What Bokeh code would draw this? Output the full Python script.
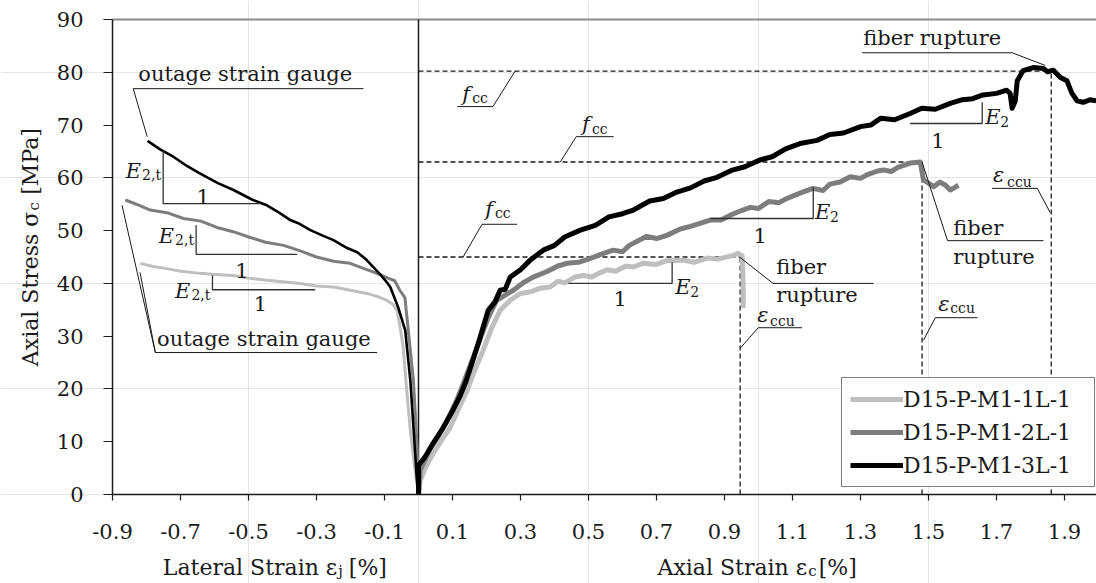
import math
from bokeh.plotting import figure
from bokeh.models import (Range1d, FixedTicker, LinearAxis, Legend, LegendItem,
                          ColumnDataSource, PrintfTickFormatter)
from bokeh.core.properties import value
from bokeh.embed import file_html
from bokeh.resources import INLINE

SERIF = "DejaVu Serif"
INK = "#1a1a1a"

# ---- specimens -------------------------------------------------------------
series_names = ["D15-P-M1-1L-1", "D15-P-M1-2L-1", "D15-P-M1-3L-1"]
series_colors = ["#bfbfbf", "#7d7d7d", "#000000"]

# axial strain [%] / axial stress [MPa]
ax1_strain = [0, 0.005, 0.02, 0.043, 0.07, 0.093, 0.12, 0.143, 0.165, 0.19, 0.215, 0.24,
              0.27, 0.3, 0.33, 0.358, 0.387, 0.41, 0.43, 0.46, 0.485, 0.51, 0.53, 0.555, 0.58,
              0.61, 0.632, 0.66, 0.7, 0.73, 0.78, 0.81, 0.85, 0.88, 0.926, 0.94, 0.952,
              0.955, 0.955]
ax1_stress = [0, 2.6, 5.0, 7.8, 10.5, 12.7, 16.5, 19.7, 23.5, 27.3, 31.5, 34.9,
              36.8, 38.1, 38.4, 39.1, 39.3, 40.4, 40.1, 41.2, 41.5, 41.2, 41.9, 42.6, 42.3,
              43.3, 43.1, 43.8, 43.6, 44.3, 44.4, 44.0, 44.8, 44.6, 45.3, 45.7, 45.2,
              40.0, 35.3]

ax2_strain = [0, 0.005, 0.034, 0.06, 0.084, 0.11, 0.132, 0.155, 0.18, 0.205, 0.23, 0.255,
              0.279, 0.31, 0.337, 0.38, 0.41, 0.436, 0.47, 0.5, 0.54, 0.573, 0.6, 0.62, 0.67,
              0.7, 0.73, 0.77, 0.8, 0.83, 0.858, 0.89, 0.92, 0.95, 0.976, 1.0, 1.03, 1.06,
              1.08, 1.122, 1.16, 1.19, 1.21, 1.24, 1.27, 1.3, 1.32, 1.35, 1.368, 1.39, 1.41,
              1.446, 1.476, 1.485, 1.5, 1.515, 1.534, 1.55, 1.564, 1.578, 1.588]
ax2_stress = [0, 4.6, 8.7, 11.3, 14.0, 17.5, 21.0, 25.0, 29.2, 33.5, 36.8, 37.8,
              38.7, 40.2, 41.2, 42.3, 43.3, 43.8, 44.0, 44.6, 45.6, 46.3, 46.0, 47.2, 48.9,
              48.5, 49.1, 50.3, 50.8, 51.4, 52.0, 52.0, 53.0, 53.8, 54.4, 54.2, 55.5, 55.3,
              56.0, 57.1, 58.0, 57.6, 58.8, 59.2, 60.2, 59.9, 60.6, 61.3, 61.5, 61.2, 62.0,
              62.8, 63.0, 59.6, 59.0, 58.3, 59.2, 58.6, 57.7, 58.2, 58.6]

ax3_strain = [0, 0.0, 0.02, 0.043, 0.073, 0.1, 0.123, 0.14, 0.158, 0.18, 0.205, 0.225,
              0.24, 0.255, 0.27, 0.3, 0.33, 0.367, 0.4, 0.43, 0.476, 0.52, 0.56, 0.6, 0.632,
              0.68, 0.72, 0.76, 0.8, 0.84, 0.878, 0.92, 0.96, 1.005, 1.04, 1.08, 1.122,
              1.172, 1.21, 1.25, 1.3, 1.33, 1.36, 1.4, 1.446, 1.48, 1.52, 1.564, 1.6, 1.63,
              1.66, 1.7, 1.73, 1.74, 1.746, 1.755, 1.761, 1.778, 1.808, 1.838, 1.85, 1.867,
              1.888, 1.907, 1.922, 1.937, 1.955, 1.975, 1.993]
ax3_stress = [0, 5.5, 7.2, 9.7, 12.7, 15.8, 18.8, 21.5, 25.0, 29.5, 34.9, 36.5,
              38.7, 38.9, 41.2, 42.6, 44.5, 46.3, 47.2, 48.8, 50.1, 51.0, 52.6, 53.2, 53.9,
              55.6, 56.1, 57.3, 58.1, 59.4, 60.1, 61.4, 62.1, 63.4, 64.0, 65.5, 66.5,
              67.1, 68.2, 68.5, 69.7, 70.0, 71.3, 71.0, 72.2, 73.2, 73.0, 74.1, 74.8, 75.0,
              75.7, 76.0, 76.6, 76.0, 73.2, 74.5, 78.4, 80.3, 80.9, 80.7, 80.1, 80.4,
              79.0, 78.4, 76.0, 74.6, 74.3, 74.8, 74.6]

# lateral (hoop) strain [%] / axial stress [MPa]
lat1_strain = [0, -0.006, -0.015, -0.024, -0.035, -0.045, -0.055, -0.063, -0.075, -0.093,
               -0.12, -0.152, -0.2, -0.25, -0.3, -0.348, -0.4, -0.446, -0.5, -0.544, -0.6,
               -0.642, -0.7, -0.74, -0.78, -0.818]
lat1_stress = [0, 2.6, 7.0, 12.1, 20.0, 27.9, 32.0, 34.9, 36.0, 36.8,
               37.5, 38.1, 38.7, 39.3, 39.5, 40.0, 40.3, 40.6, 41.0, 41.5, 41.7,
               41.9, 42.3, 42.8, 43.2, 43.8]

lat2_strain = [0, -0.004, -0.015, -0.03, -0.04, -0.055, -0.07, -0.09, -0.122, -0.16, -0.201,
               -0.25, -0.3, -0.35, -0.397, -0.45, -0.495, -0.545, -0.593, -0.64, -0.691,
               -0.74, -0.789, -0.83, -0.862]
lat2_stress = [0, 8.9, 21.6, 31.1, 37.3, 38.7, 40.5, 41.0, 41.9, 42.8, 43.8,
               44.2, 45.0, 46.2, 47.2, 47.8, 48.7, 49.8, 50.6, 51.8, 52.3,
               53.4, 53.9, 55.0, 55.8]

lat3_strain = [0, -0.005, -0.012, -0.024, -0.039, -0.06, -0.083, -0.093, -0.11, -0.133,
               -0.155, -0.18, -0.21, -0.25, -0.28, -0.318, -0.35, -0.377, -0.41, -0.446,
               -0.49, -0.544, -0.59, -0.642, -0.68, -0.721, -0.76, -0.797]
lat3_stress = [0, 3.0, 10.0, 21.6, 31.1, 35.5, 39.3, 40.2, 41.5, 43.1,
               44.6, 45.9, 46.7, 48.2, 49.0, 50.1, 51.3, 52.0, 53.4, 54.8,
               55.9, 57.7, 59.0, 60.8, 62.2, 64.0, 65.4, 67.0]

# peak stress f_cc [MPa] and ultimate axial strain eps_ccu [%]
fcc = [45.0, 63.0, 80.2]
eps_ccu = [0.946, 1.481, 1.861]

x_ticks = [-0.9, -0.7, -0.5, -0.3, -0.1, 0.1, 0.3, 0.5, 0.7, 0.9, 1.1, 1.3, 1.5, 1.7, 1.9]
x_tick_labels = ["-0.9", "-0.7", "-0.5", "-0.3", "-0.1", "0.1", "0.3", "0.5", "0.7",
                 "0.9", "1.1", "1.3", "1.5", "1.7", "1.9"]
y_ticks = [0, 10, 20, 30, 40, 50, 60, 70, 80, 90]
y_tick_labels = ["0", "10", "20", "30", "40", "50", "60", "70", "80", "90"]

# ---- figure ----------------------------------------------------------------
# The plotting frame fills the whole canvas; the axes sit at fixed data
# locations so that titles with subscripts can be set as text glyphs.
X_MIN, X_MAX = -0.9, 1.994        # axis extent
Y_MIN, Y_MAX = 0, 90
x_view = Range1d(-1.2294, 1.9941)
y_view = Range1d(-16.86, 93.6)

p = figure(width=1096, height=583, x_range=x_view, y_range=y_view,
           x_axis_location=None, y_axis_location=None,
           output_backend="svg", toolbar_location=None,
           min_border_left=0, min_border_right=0, min_border_top=0, min_border_bottom=0)
p.outline_line_color = None
p.background_fill_color = "white"
p.border_fill_color = "white"

xa = LinearAxis(fixed_location=0, bounds=(X_MIN, X_MAX), ticker=FixedTicker(ticks=x_ticks),
                formatter=PrintfTickFormatter(format="%.1f"),
                major_label_overrides=dict(zip(x_ticks, x_tick_labels)))
ya = LinearAxis(fixed_location=X_MIN, bounds=(Y_MIN, Y_MAX), ticker=FixedTicker(ticks=y_ticks),
                major_label_overrides=dict(zip(y_ticks, y_tick_labels)))
for ax, tick_len, standoff in ((xa, 6, 23), (ya, 9, 20)):
    ax.major_tick_out = tick_len
    ax.major_tick_in = 0
    ax.minor_tick_out = 0
    ax.minor_tick_in = 0
    ax.major_tick_line_color = INK
    ax.major_tick_line_width = 1.2
    ax.axis_line_color = INK
    ax.axis_line_width = 1.5
    ax.major_label_text_font = SERIF
    ax.major_label_text_font_size = "21px"
    ax.major_label_text_color = INK
    ax.major_label_standoff = standoff
p.add_layout(xa, "below")
p.add_layout(ya, "left")

# upper frame edge and the zero-strain divider
p.segment(x0=[X_MIN], y0=[Y_MAX], x1=[X_MAX], y1=[Y_MAX], line_color="#8c8c8c", line_width=2)
p.segment(x0=[0], y0=[Y_MIN], x1=[0], y1=[Y_MAX], line_color=INK, line_width=1.5)

# f_cc and eps_ccu guide lines
p.segment(x0=[0] * 3, y0=fcc, x1=eps_ccu, y1=fcc, line_color=INK, line_width=1.3,
          line_dash="5 3")
p.segment(x0=eps_ccu, y0=[0] * 3, x1=eps_ccu, y1=fcc, line_color=INK, line_width=1.3,
          line_dash="5 3")

# ---- curves ----------------------------------------------------------------
lateral = [(lat1_strain, lat1_stress), (lat2_strain, lat2_stress), (lat3_strain, lat3_stress)]
axial = [(ax1_strain, ax1_stress), (ax2_strain, ax2_stress), (ax3_strain, ax3_stress)]
lat_widths = [3, 3, 2.6]

for (xs, ys), col, lw in zip(lateral, series_colors, lat_widths):
    p.line(xs, ys, line_color=col, line_width=lw, line_join="round")

axial_renderers = []
for (xs, ys), col in zip(axial, series_colors):
    axial_renderers.append(p.line(xs, ys, line_color=col, line_width=5, line_join="round"))

# ---- leader lines and slope triangles --------------------------------------
leaders = [
    [(-0.162, 76.9), (-0.839, 76.9), (-0.798, 67.8)],
    [(-0.122, 26.9), (-0.774, 26.9), (-0.872, 54.8)],
    [(-0.774, 26.9), (-0.819, 42.1)],
    [(0.114, 73.5), (0.219, 73.5), (0.284, 80.2)],
    [(0.574, 67.8), (0.464, 67.8), (0.417, 63.0)],
    [(0.290, 51.2), (0.187, 51.2), (0.131, 45.0)],
    [(0.944, 45.0), (1.043, 40.0), (1.338, 40.0)],
    [(1.481, 63.0), (1.556, 48.1), (1.838, 48.1)],
    [(1.305, 83.7), (1.746, 83.7), (1.843, 81.3)],
    [(1.128, 31.6), (0.999, 31.6), (0.946, 27.7)],
    [(1.644, 33.5), (1.520, 33.5), (1.485, 29.2)],
    [(1.687, 58.0), (1.820, 58.0), (1.858, 53.4)],
]
p.multi_line([[pt[0] for pt in l] for l in leaders], [[pt[1] for pt in l] for l in leaders],
             line_color=INK, line_width=1)

triangles = [
    [(-0.751, 65.2), (-0.751, 55.1), (-0.465, 55.1)],
    [(-0.654, 51.0), (-0.654, 45.5), (-0.357, 45.5)],
    [(-0.606, 41.5), (-0.606, 38.8), (-0.304, 38.8)],
    [(0.441, 40.0), (0.746, 40.0), (0.746, 44.0)],
    [(0.858, 52.3), (1.161, 52.3), (1.161, 58.2)],
    [(1.446, 70.3), (1.658, 70.3), (1.658, 74.3)],
]
p.multi_line([[pt[0] for pt in t] for t in triangles], [[pt[1] for pt in t] for t in triangles],
             line_color="#333333", line_width=1.3)

# ---- texts -----------------------------------------------------------------
notes = [
    # x, y, text, size, style, align
    (-0.824, 78.8, "outage strain gauge", 21, "normal", "left"),
    (-0.769, 28.6, "outage strain gauge", 21, "normal", "left"),
    (-0.816, 60.4, "E", 21, "italic", "right"), (-0.813, 59.6, "2,t", 14, "normal", "left"),
    (-0.719, 48.1, "E", 21, "italic", "right"), (-0.716, 47.2, "2,t", 14, "normal", "left"),
    (-0.671, 37.7, "E", 21, "italic", "right"), (-0.668, 36.9, "2,t", 14, "normal", "left"),
    (-0.633, 55.5, "1", 21, "normal", "center"),
    (-0.519, 41.5, "1", 21, "normal", "center"),
    (-0.465, 35.2, "1", 21, "normal", "center"),
    (0.755, 38.3, "E", 21, "italic", "left"), (0.799, 37.5, "2", 14, "normal", "left"),
    (1.166, 52.5, "E", 21, "italic", "left"), (1.210, 51.7, "2", 14, "normal", "left"),
    (1.667, 70.5, "E", 21, "italic", "left"), (1.711, 69.7, "2", 14, "normal", "left"),
    (0.593, 36.2, "1", 21, "normal", "center"),
    (1.005, 48.1, "1", 21, "normal", "center"),
    (1.528, 66.1, "1", 21, "normal", "center"),
    (0.129, 75.0, "f", 21, "italic", "left"), (0.158, 74.1, "cc", 14, "normal", "left"),
    (0.481, 69.3, "f", 21, "italic", "left"), (0.510, 68.4, "cc", 14, "normal", "left"),
    (0.196, 53.2, "f", 21, "italic", "left"), (0.225, 52.3, "cc", 14, "normal", "left"),
    (1.052, 42.1, "fiber", 21, "normal", "left"),
    (1.052, 36.9, "rupture", 21, "normal", "left"),
    (1.573, 49.6, "fiber", 21, "normal", "left"),
    (1.573, 44.1, "rupture", 21, "normal", "left"),
    (1.308, 85.6, "fiber rupture", 21, "normal", "left"),
    (0.996, 33.0, "ε", 21, "italic", "left"), (1.034, 32.0, "ccu", 14, "normal", "left"),
    (1.529, 35.2, "ε", 21, "italic", "left"), (1.564, 34.3, "ccu", 14, "normal", "left"),
    (1.690, 59.5, "ε", 21, "italic", "left"), (1.731, 58.3, "ccu", 14, "normal", "left"),
    # axis titles
    (-0.239, -14.78, "Lateral Strain ε", 22, "normal", "right"),
    (-0.236, -15.5, "j", 15, "normal", "left"),
    (-0.205, -14.78, "[%]", 22, "normal", "left"),
    (1.143, -14.78, "Axial Strain ε", 22, "normal", "right"),
    (1.146, -15.5, "c", 15, "normal", "left"),
    (1.177, -14.78, "[%]", 22, "normal", "left"),
]
note_src = ColumnDataSource(dict(
    x=[n[0] for n in notes], y=[n[1] for n in notes], text=[n[2] for n in notes],
    size=["%dpx" % n[3] for n in notes], style=[n[4] for n in notes],
    align=[n[5] for n in notes]))
p.text(x="x", y="y", text="text", source=note_src, text_font=value(SERIF),
       text_font_size="size", text_font_style="style", text_align="align",
       text_baseline="alphabetic", text_color=INK, y_offset=-5)

# vertical title of the stress axis
ytitle = [
    (-1.142, 53.6, "Axial Stress σ", 22, "right"),
    (-1.130, 53.8, "c", 15, "left"),
    (-1.142, 56.8, "[MPa]", 22, "left"),
]
ytitle_src = ColumnDataSource(dict(
    x=[t[0] for t in ytitle], y=[t[1] for t in ytitle], text=[t[2] for t in ytitle],
    size=["%dpx" % t[3] for t in ytitle], align=[t[4] for t in ytitle]))
p.text(x="x", y="y", text="text", source=ytitle_src, text_font=value(SERIF),
       text_font_size="size", text_align="align", text_baseline="alphabetic",
       text_color=INK, angle=math.pi / 2)

# ---- legend ----------------------------------------------------------------
legend = Legend(items=[LegendItem(label=n, renderers=[r])
                       for n, r in zip(series_names, axial_renderers)],
                location=(841, 96), orientation="vertical",
                border_line_color="black", border_line_width=1.2,
                background_fill_color="white", background_fill_alpha=1.0,
                label_text_font=SERIF, label_text_font_size="22px", label_text_color=INK,
                glyph_width=53, glyph_height=26, label_height=26, label_width=183,
                label_standoff=0, spacing=7, padding=8, margin=0)
p.add_layout(legend)

open("out.html", "w").write(file_html(p, INLINE))
